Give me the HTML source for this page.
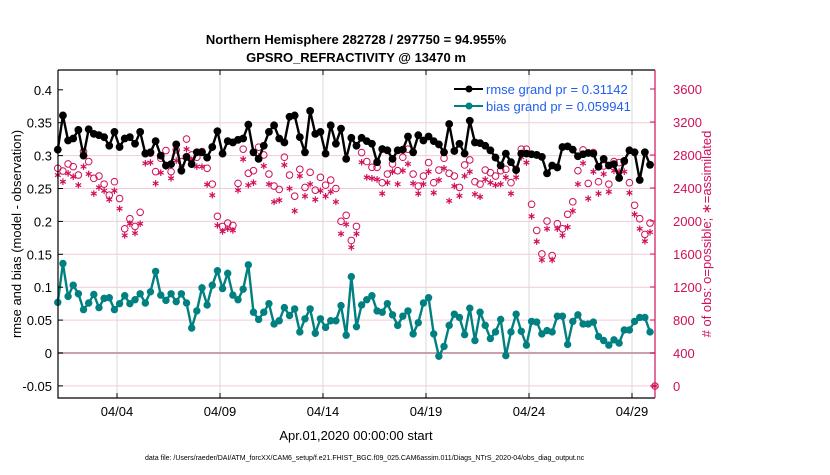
<!DOCTYPE html>
<html><head><meta charset="utf-8"><style>
body{margin:0;background:#fff;}
svg text{font-family:"Liberation Sans",Arial,sans-serif;}
</style></head><body>
<svg id="chart" width="830" height="470" xmlns="http://www.w3.org/2000/svg">
<text x="356" y="44" text-anchor="middle" font-size="13" font-weight="bold">Northern Hemisphere 282728 / 297750 = 94.955%</text>
<text x="356" y="62" text-anchor="middle" font-size="13" font-weight="bold">GPSRO_REFRACTIVITY @ 13470 m</text>
<g id="grid"></g>
<g id="series"></g>
<g id="axes"></g>
<text transform="translate(21,234) rotate(-90)" text-anchor="middle" font-size="13">rmse and bias (model - observation)</text>
<text transform="translate(711,234) rotate(-90)" text-anchor="middle" font-size="13" fill="#d0105a"># of obs: o=possible; ∗=assimilated</text>
<text x="356" y="440" text-anchor="middle" font-size="13">Apr.01,2020 00:00:00 start</text>
<text x="145" y="460" font-size="7">data file: /Users/raeder/DAI/ATM_forcXX/CAM6_setup/f.e21.FHIST_BGC.f09_025.CAM6assim.011/Diags_NTrS_2020-04/obs_diag_output.nc</text>
<g>
<line x1="454" y1="89" x2="483" y2="89" stroke="#000" stroke-width="2"/><circle cx="469" cy="89" r="3.5" fill="#000"/>
<text x="486" y="94" font-size="13" fill="#1f5ff0">rmse grand pr = 0.31142</text>
<line x1="454" y1="106" x2="483" y2="106" stroke="#008080" stroke-width="2"/><circle cx="469" cy="106" r="3.5" fill="#008080"/>
<text x="486" y="111" font-size="13" fill="#1f5ff0">bias grand pr = 0.059941</text>
</g>
</svg>
<script>
const rmse=[0.309,0.361,0.323,0.326,0.339,0.300,0.340,0.333,0.331,0.328,0.315,0.336,0.313,0.326,0.328,0.318,0.336,0.303,0.305,0.322,0.300,0.285,0.287,0.317,0.277,0.298,0.287,0.305,0.305,0.297,
0.313,0.337,0.303,0.322,0.320,0.324,0.326,0.347,0.305,0.295,0.315,0.336,0.346,0.326,0.320,0.359,0.361,0.328,0.305,0.368,0.333,0.336,0.303,0.346,0.318,0.341,0.295,0.327,0.315,
0.327,0.322,0.318,0.290,0.310,0.308,0.295,0.308,0.309,0.329,0.305,0.331,0.323,0.329,0.322,0.317,0.305,0.348,0.307,0.318,0.303,0.353,0.320,0.319,0.315,0.308,0.297,0.285,
0.303,0.290,0.278,0.303,0.303,0.302,0.301,0.298,0.273,0.285,0.282,0.313,0.314,0.309,0.299,0.302,0.304,0.303,0.283,0.295,0.285,0.287,0.266,0.292,0.308,0.305,0.263,0.305,0.286];
const bias=[0.077,0.136,0.086,0.103,0.090,0.066,0.076,0.089,0.069,0.083,0.084,0.066,0.075,0.087,0.075,0.081,0.090,0.076,0.093,0.124,0.088,0.080,0.090,0.078,0.090,0.076,0.038,0.064,0.099,0.073,
0.103,0.125,0.098,0.121,0.088,0.081,0.097,0.134,0.062,0.051,0.062,0.075,0.044,0.049,0.069,0.057,0.067,0.032,0.052,0.067,0.030,0.052,0.039,0.049,0.049,0.072,0.027,0.116,0.040,
0.073,0.081,0.087,0.064,0.062,0.075,0.058,0.042,0.056,0.064,0.029,0.046,0.076,0.084,0.029,-0.005,0.010,0.042,0.059,0.054,0.028,0.068,0.019,0.062,0.042,0.022,0.032,0.051,
-0.004,0.032,0.059,0.033,0.012,0.048,0.047,0.029,0.034,0.032,0.056,0.056,0.013,0.048,0.058,0.044,0.044,0.047,0.025,0.019,0.012,0.020,0.015,0.035,0.035,0.048,0.054,0.054,0.032];
const obsPossible=[2639,2606,2692,2659,2557,2842,2720,2517,2545,2447,2313,2476,2272,1906,2028,1934,2106,2822,2822,2598,2761,2854,2598,2862,2720,2993,2801,2773,2842,2639,
2447,2057,1935,1975,1947,2456,2871,2578,2610,2895,2801,2569,2423,2382,2773,2557,2301,2626,2407,2590,2374,2529,2435,2496,2394,1996,2069,1764,1935,
2830,2720,2651,2651,2464,2569,2692,2610,2773,2871,2569,2423,2545,2708,2464,2618,2761,2578,2545,2407,2679,2740,2476,2447,2618,2586,2545,2610,
2626,2464,2626,2871,2871,2203,1886,1601,1999,1581,1967,1906,2081,2232,2610,2862,2456,2830,2476,2667,2447,2720,2708,2720,2464,2191,2028,1837,1975];
const obsAssim=[2557,2476,2578,2537,2435,2659,2570,2333,2407,2366,2260,2366,2150,1825,1967,1853,1967,2700,2708,2456,2586,2659,2517,2732,2639,2871,2740,2659,2659,2443,
2313,1947,1874,1906,1886,2374,2749,2435,2464,2781,2667,2447,2232,2252,2679,2394,2122,2545,2301,2447,2260,2366,2301,2354,2232,1845,1959,1682,1845,
2712,2529,2517,2504,2333,2464,2598,2447,2610,2692,2456,2333,2447,2598,2342,2496,2639,2244,2423,2305,2545,2598,2325,2293,2504,2464,2435,2447,
2529,2333,2529,2773,2708,2057,1751,1528,1906,1528,1906,1825,1926,2122,2447,2700,2272,2598,2333,2569,2354,2610,2598,2598,2342,2081,1906,1755,1865];
const leftTicks=[-0.05,0,0.05,0.1,0.15,0.2,0.25,0.3,0.35,0.4];
const leftTickLabels=["-0.05","0","0.05","0.1","0.15","0.2","0.25","0.3","0.35","0.4"];
const rightTicks=[0,400,800,1200,1600,2000,2400,2800,3200,3600];
const dateTickDays=[3,8,13,18,23,28];
const dateTickLabels=["04/04","04/09","04/14","04/19","04/24","04/29"];
const startDay=0.125, stepDay=0.25;

const L=58,R=655,T=70,B=398;
const xS=d=>117+(d-3)*20.6;
const yL=v=>353-v*658;
const yR=n=>386-n*33/400;
const NS="http://www.w3.org/2000/svg";
function mk(tag,attrs,parent){const e=document.createElementNS(NS,tag);for(const k in attrs)e.setAttribute(k,attrs[k]);parent.appendChild(e);return e;}
const grid=document.getElementById('grid'),ser=document.getElementById('series'),ax=document.getElementById('axes');

leftTicks.forEach((v,i)=>{
  if(v!==0&&v<0.4){const g=mk('line',{x1:L,x2:R,y1:yL(v),y2:yL(v),stroke:'#f2cadb','stroke-width':1},grid);
  
  }
  const t=mk('line',{x1:L,x2:L+5,y1:yL(v),y2:yL(v),stroke:'#000'},ax);
  
  
  const tx=mk('text',{x:L-6,y:yL(v)+5,'text-anchor':'end','font-size':13},ax);tx.textContent=leftTickLabels[i];
  
  
});
dateTickDays.forEach((d,i)=>{
  const g=mk('line',{x1:xS(d),x2:xS(d),y1:T,y2:B,stroke:'#d8d8d8'},grid);
  
  
  mk('line',{x1:xS(d),x2:xS(d),y1:B,y2:B-5,stroke:'#000'},ax);
  mk('line',{x1:xS(d),x2:xS(d),y1:T,y2:T+5,stroke:'#000'},ax);
  const tx=mk('text',{x:xS(d),y:B+18,'text-anchor':'middle','font-size':13},ax);tx.textContent=dateTickLabels[i];
  
  
});
const zl=mk('line',{x1:L,x2:R,y1:yL(0),y2:yL(0),stroke:'#c8a0b0','stroke-width':2},grid);


rightTicks.forEach(n=>{
  mk('line',{x1:R,x2:R-5,y1:yR(n),y2:yR(n),stroke:'#d0105a'},ax);
  const tx=mk('text',{x:R+18,y:yR(n)+5,'font-size':13,fill:'#d0105a'},ax);tx.textContent=String(n);
  
  
});
const fr=mk('path',{d:`M${L},${T}V${B}H${R}M${L},${T}H${R}`,stroke:'#000',fill:'none','stroke-width':1.2},ax);


const ra=mk('line',{x1:R,x2:R,y1:T,y2:B,stroke:'#d0105a','stroke-width':1.2},ax);



const xd=i=>xS(startDay+i*stepDay);
function starPath(x,y,r){
  const a=r*0.87,b=r*0.5;
  return `M${x},${y-r}V${y+r}M${x-a},${y-b}L${x+a},${y+b}M${x-a},${y+b}L${x+a},${y-b}`;
}
obsPossible.forEach((n,i)=>{
  const c=mk('circle',{cx:xd(i),cy:yR(n),r:3.3,fill:'none',stroke:'#d0105a','stroke-width':1},ser);
  
  
});
obsAssim.forEach((n,i)=>{
  const s=mk('path',{d:starPath(xd(i),yR(n),3.3),stroke:'#d0105a','stroke-width':1.2,fill:'none'},ser);
  
  
});
const endc=mk('circle',{cx:R,cy:yR(0),r:3.3,fill:'none',stroke:'#d0105a'},ser);


const ends=mk('path',{d:starPath(R,yR(0),3.3),stroke:'#d0105a','stroke-width':1.2},ser);


function line(arr,color,name,r){
  const p=mk('polyline',{points:arr.map((v,i)=>xd(i)+','+yL(v)).join(' '),fill:'none',stroke:color,'stroke-width':2.4},ser);
  
  
  arr.forEach((v,i)=>{const c=mk('circle',{cx:xd(i),cy:yL(v),r:r,fill:color},ser);
    
    });
}
line(rmse,'#000','rmse',3.9);
line(bias,'#008080','bias',3.7);
</script>
</body></html>
